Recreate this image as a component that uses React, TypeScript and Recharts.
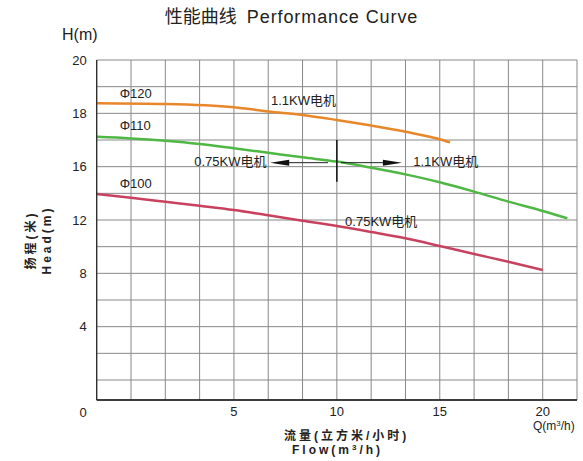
import { CartesianGrid, Line, LineChart, ReferenceDot, ReferenceLine, XAxis, YAxis } from "recharts";

// flow Q (m3/h) and head H (m)
const flowPhi120 = [-1.67, 1.67, 5, 6.67, 8.33, 10, 11.67, 13.33, 15, 15.5];
const headPhi120 = [18.38, 18.35, 18.23, 18.07, 17.94, 17.75, 17.54, 17.31, 17.03, 16.91];

const flowPhi110 = [-1.67, 0, 1.67, 3.33, 5, 6.67, 8.33, 10, 11.67, 13.33, 15, 16.67, 18.33, 20, 21.2];
const headPhi110 = [17.12, 17.06, 16.97, 16.85, 16.69, 16.52, 16.35, 16.19, 15.92, 15.42, 14.83, 14.13, 13.38, 12.68, 12.13];

const flowPhi100 = [-1.67, 0, 1.67, 3.33, 5, 6.67, 8.33, 10, 11.67, 13.33, 15, 16.67, 18.33, 20];
const headPhi100 = [13.95, 13.67, 13.37, 13.07, 12.75, 12.35, 11.95, 11.55, 11.1, 10.63, 10.05, 9.45, 8.87, 8.25];

const yTickLabels = [0, 4, 8, 12, 16, 18, 20];
const xTickLabels = [5, 10, 15, 20];

const curveLabels = [
  { text: "Φ120", q: -0.55, h: 18.73 },
  { text: "Φ110", q: -0.55, h: 17.53 },
  { text: "Φ100", q: -0.55, h: 14.78 },
];
const motorLabels = [
  { text: "1.1KW电机", q: 6.8, h: 18.5 },
  { text: "0.75KW电机", q: 3.07, h: 16.21 },
  { text: "1.1KW电机", q: 13.71, h: 16.21 },
  { text: "0.75KW电机", q: 10.4, h: 11.87 },
];

const FONT = '"Liberation Sans", Arial, "Noto Sans CJK SC", sans-serif';

// the head axis of the original is not linear: 1 m per row above 16, 2 m per row below
function toAxis(h: number) {
  if (h >= 16) return 8.75 + (h - 16);
  if (h >= 4) return 2.75 + (h - 4) / 2;
  return (h * 2.75) / 4;
}

const yGrid = [0, ...Array.from({ length: 13 }, (_, i) => 0.75 + i)];
const xGrid = Array.from({ length: 15 }, (_, i) => ((i - 1) * 5) / 3);

const zip = (q: number[], h: number[]) => q.map((v, i) => ({ q: v, h: toAxis(h[i]) }));
const dataPhi120 = zip(flowPhi120, headPhi120);
const dataPhi110 = zip(flowPhi110, headPhi110);
const dataPhi100 = zip(flowPhi100, headPhi100);

function yLabel(v: number) {
  const hit = yTickLabels.find((t) => Math.abs(toAxis(t) - v) < 1e-6);
  return hit === undefined ? "" : String(hit);
}

function xLabel(v: number) {
  const hit = xTickLabels.find((t) => Math.abs(t - v) < 1e-6);
  return hit === undefined ? "" : String(hit);
}

const YTick = (props: any) => {
  const { x, y, payload } = props;
  const label = yLabel(payload.value);
  if (!label) return <g />;
  return (
    <text x={x} y={payload.value === 0 ? y + 12 : y} dy="0.355em" textAnchor="end" fontSize={13} fill="#222" fontFamily={FONT}>
      {label}
    </text>
  );
};

const Arrow = (props: any) => {
  const { x1, y1, x2, y2 } = props;
  const dir = x2 > x1 ? 1 : -1;
  return (
    <g>
      <line x1={x1} y1={y1} x2={x2 - dir * 18} y2={y2} stroke="#222" strokeWidth={1} />
      <polygon points={`${x2},${y2} ${x2 - dir * 19},${y2 - 3} ${x2 - dir * 19},${y2 + 3}`} fill="#111" />
    </g>
  );
};

const textShape = (text: string) => (p: any) => (
  <text x={p.cx} y={p.cy} dy="0.355em" fontSize={13} fill="#222" fontFamily={FONT}>
    {text}
  </text>
);

const abs = (left: number, top: number, extra: any = {}) => ({
  position: "absolute" as const,
  left,
  top,
  lineHeight: 1,
  whiteSpace: "nowrap" as const,
  color: "#222",
  ...extra,
});

const sup = { fontSize: 8, lineHeight: 0, verticalAlign: "4px" };

export default function App() {
  return (
    <div style={{ position: "absolute", left: 0, top: 0, width: 583, height: 461, background: "#fff", fontFamily: FONT }}>
      <LineChart width={583} height={461} data={dataPhi110} margin={{ top: 60, right: 6, left: 36, bottom: 31 }}>
        <CartesianGrid stroke="#888" strokeWidth={1} />
        <XAxis
          type="number"
          dataKey="q"
          domain={[-5 / 3, 65 / 3]}
          ticks={xGrid}
          allowDataOverflow
          interval={0}
          tickFormatter={xLabel}
          tickLine={false}
          tickSize={0}
          tickMargin={7}
          height={30}
          axisLine={{ stroke: "#111", strokeWidth: 1.5 }}
          tick={{ fontSize: 13, fill: "#222", fontFamily: FONT }}
        />
        <YAxis
          type="number"
          domain={[0, 12.75]}
          ticks={yGrid}
          allowDataOverflow
          interval={0}
          tick={YTick}
          tickLine={false}
          tickSize={0}
          tickMargin={10}
          width={60.7}
          axisLine={{ stroke: "#222", strokeWidth: 1.2 }}
        />
        <Line data={dataPhi120} dataKey="h" type="monotone" stroke="#E8872A" strokeWidth={2.5} dot={false} isAnimationActive={false} />
        <Line data={dataPhi110} dataKey="h" type="monotone" stroke="#4FB845" strokeWidth={2.5} dot={false} isAnimationActive={false} />
        <Line data={dataPhi100} dataKey="h" type="monotone" stroke="#C8425F" strokeWidth={2.5} dot={false} isAnimationActive={false} />
        <ReferenceLine
          segment={[{ x: 10, y: toAxis(17.0) }, { x: 10, y: toAxis(14.87) }]}
          stroke="#111"
          strokeWidth={1.5}
        />
        <ReferenceLine
          segment={[{ x: 9.57, y: toAxis(16.15) }, { x: 6.76, y: toAxis(16.15) }]}
          shape={Arrow}
        />
        <ReferenceLine
          segment={[{ x: 10.2, y: toAxis(16.15) }, { x: 13.16, y: toAxis(16.15) }]}
          shape={Arrow}
        />
        {[...curveLabels, ...motorLabels].map((a, i) => (
          <ReferenceDot key={i} x={a.q} y={toAxis(a.h)} r={0} shape={textShape(a.text)} />
        ))}
      </LineChart>

      <div style={abs(0, 8, { width: 583, textAlign: "center", fontSize: 18, color: "#222" })}>
        性能曲线&nbsp;&nbsp;<span style={{ letterSpacing: 0.9 }}>Performance Curve</span>
      </div>
      <div style={abs(62, 27, { fontSize: 16 })}>H(m)</div>
      <div style={abs(533, 420, { fontSize: 12 })}>
        Q(m<span style={sup}>3</span>/h)
      </div>
      <div style={abs(284, 430, { fontSize: 12, fontWeight: "bold", letterSpacing: 3 })}>流量(立方米/小时)</div>
      <div style={abs(292, 444, { fontSize: 12, fontWeight: "bold", letterSpacing: 3 })}>
        Flow(m<span style={sup}>3</span>/h)
      </div>
      <div
        style={abs(-40, 233, {
          width: 140,
          textAlign: "center",
          transform: "rotate(-90deg)",
          transformOrigin: "70px 7px",
          fontSize: 12,
          fontWeight: "bold",
          letterSpacing: 3,
          lineHeight: "16px",
        })}
      >
        扬程(米)
        <br />
        Head(m)
      </div>
    </div>
  );
}
